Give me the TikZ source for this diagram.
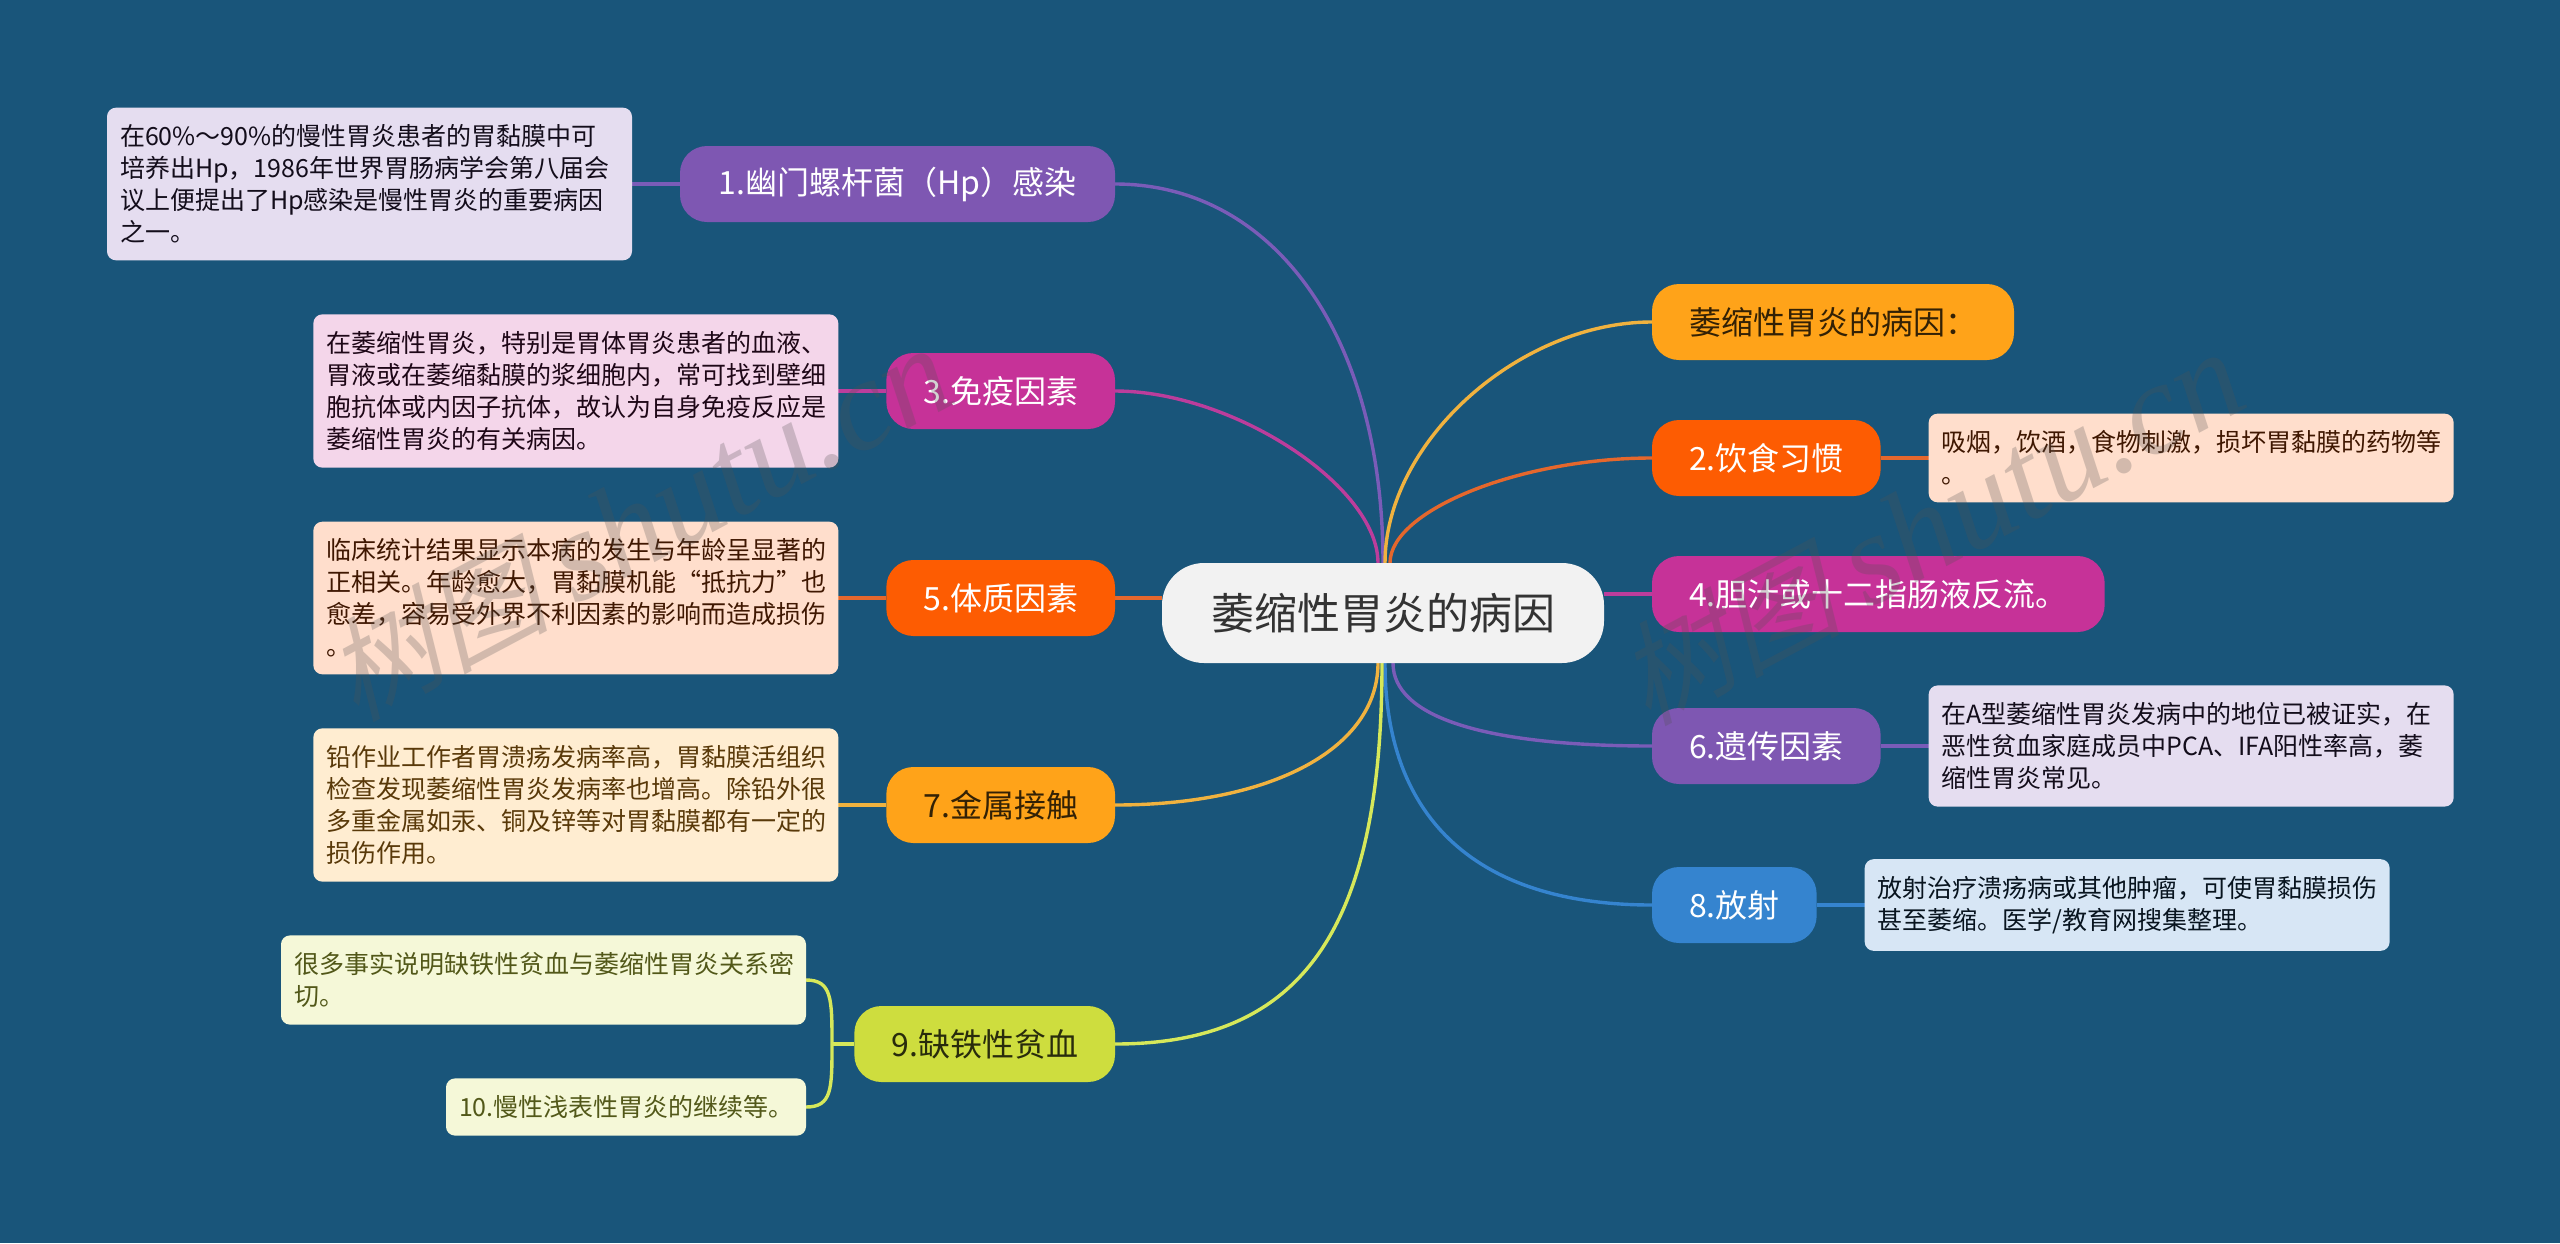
\documentclass[tikz,border=0pt]{standalone}
\usepackage{fontspec}
\setmainfont{Noto Sans CJK SC}
\newfontfamily\wmcjk[FakeSlant=0.25]{Noto Sans CJK SC}
\newfontfamily\wmlatin{Liberation Serif}
\usetikzlibrary{arrows.meta,positioning,backgrounds}
\definecolor{Paper}{HTML}{19557A}
\definecolor{Violet}{HTML}{7E57B2}
\definecolor{Magenta}{HTML}{C63298}
\definecolor{Flame}{HTML}{FD5C02}
\definecolor{Amber}{HTML}{FFA319}
\definecolor{Lime}{HTML}{CEDD3E}
\definecolor{Azure}{HTML}{3584CF}
\definecolor{LineViolet}{HTML}{7A5CB8}
\definecolor{LineMagenta}{HTML}{BC3D9C}
\definecolor{LineFlame}{HTML}{E5672C}
\definecolor{LineAmber}{HTML}{F0B23F}
\definecolor{LineLime}{HTML}{D6E85A}

\begin{document}
\begin{tikzpicture}[
  x=1pt,y=1pt,
  node distance=48pt,
  every node/.style={outer sep=0pt},
  rootbox/.style={
    rounded corners=42pt,
    fill=black!5,
    text=black!80,
    minimum width=442pt,
    minimum height=100pt,
    font=\fontsize{43}{50}\selectfont
  },
  branchbox/.style={
    rounded corners=27pt,
    text=white,
    minimum height=76pt,
    inner xsep=37pt,
    font=\fontsize{32}{38}\selectfont
  },
  notebox/.style={
    rounded corners=9pt,
    align=left,
    inner xsep=13pt,
    inner ysep=17pt,
    text width=499pt,
    font=\fontsize{25}{32}\selectfont
  },
  link/.style={line width=3.4pt},
  watermark/.style={
    rotate=28,
    text=black!68,
    opacity=0.26
  }
]

% Centre
\node[rootbox] (root) at (1383,-613) {萎缩性胃炎的病因};

% Branches on the left
\node[branchbox, fill=Violet, minimum width=435pt, anchor=east] (n1) at (1115,-184) {1.幽门螺杆菌（Hp）感染};
\node[branchbox, fill=Magenta, anchor=east] (n3) at (1115,-391) {3.免疫因素};
\node[branchbox, fill=Flame, anchor=east] (n5) at (1115,-598) {5.体质因素};
\node[branchbox, fill=Amber, text=black!80!Amber, anchor=east] (n7) at (1115,-805) {7.金属接触};
\node[branchbox, fill=Lime, text=black!80!Lime, anchor=east] (n9) at (1115,-1044) {9.缺铁性贫血};

% Branches on the right
\node[branchbox, fill=Amber, text=black!80!Amber, anchor=west] (n0) at (1652,-322) {萎缩性胃炎的病因：};
\node[branchbox, fill=Flame, anchor=west] (n2) at (1652,-458) {2.饮食习惯};
\node[branchbox, fill=Magenta, anchor=west] (n4) at (1652,-594) {4.胆汁或十二指肠液反流。};
\node[branchbox, fill=Violet, anchor=west] (n6) at (1652,-746) {6.遗传因素};
\node[branchbox, fill=Azure, anchor=west] (n8) at (1652,-905) {8.放射};

% Notes
\node[notebox, fill=Violet!20, text=Violet!15!black, left=of n1] (d1) {
  在60\%～90\%的慢性胃炎患者的胃黏膜中可\\
  培养出Hp，1986年世界胃肠病学会第八届会\\
  议上便提出了Hp感染是慢性胃炎的重要病因\\
  之一。
};
\node[notebox, fill=Magenta!20, text=Magenta!15!black, left=of n3] (d3) {
  在萎缩性胃炎，特别是胃体胃炎患者的血液、\\
  胃液或在萎缩黏膜的浆细胞内，常可找到壁细\\
  胞抗体或内因子抗体，故认为自身免疫反应是\\
  萎缩性胃炎的有关病因。
};
\node[notebox, fill=Flame!20, text=Flame!25!black, left=of n5] (d5) {
  临床统计结果显示本病的发生与年龄呈显著的\\
  正相关。年龄愈大，胃黏膜机能“抵抗力”也\\
  愈差，容易受外界不利因素的影响而造成损伤\\
  。
};
\node[notebox, fill=Amber!20, text=Amber!35!black, left=of n7] (d7) {
  铅作业工作者胃溃疡发病率高，胃黏膜活组织\\
  检查发现萎缩性胃炎发病率也增高。除铅外很\\
  多重金属如汞、铜及锌等对胃黏膜都有一定的\\
  损伤作用。
};
\node[notebox, fill=Lime!20, text=Lime!40!black, anchor=east] (d9) at (806,-980) {
  很多事实说明缺铁性贫血与萎缩性胃炎关系密\\
  切。
};
\node[notebox, fill=Lime!20, text=Lime!40!black, text width=334pt, anchor=east] (d10) at (806,-1107) {
  10.慢性浅表性胃炎的继续等。
};
\node[notebox, fill=Flame!20, text=Flame!25!black, right=of n2] (d2) {
  吸烟，饮酒，食物刺激，损坏胃黏膜的药物等\\
  。
};
\node[notebox, fill=Violet!20, text=Violet!15!black, right=of n6] (d6) {
  在A型萎缩性胃炎发病中的地位已被证实，在\\
  恶性贫血家庭成员中PCA、IFA阳性率高，萎\\
  缩性胃炎常见。
};
\node[notebox, fill=Azure!20, text=Azure!15!black, right=of n8] (d8) {
  放射治疗溃疡病或其他肿瘤，可使胃黏膜损伤\\
  甚至萎缩。医学/教育网搜集整理。
};

\coordinate (fork) at (832,-1044);

% Connectors
\begin{scope}[on background layer]
  \fill[Paper] (0,0) rectangle (2560,-1243);
  \draw[link, LineViolet] ([xshift=0pt]root.north) .. controls +(0,227) and +(159,0) .. (n1.east);
  \draw[link, LineMagenta] ([xshift=-5pt]root.north) .. controls +(0,77) and +(118,0) .. (n3.east);
  \draw[link, LineFlame] (n5.east) -- (n5.east -| root.west);
  \draw[link, LineAmber] ([xshift=-5pt]root.south) .. controls +(0,-85) and +(158,0) .. (n7.east);
  \draw[link, LineAmber] ([xshift=2pt]root.north) .. controls +(0,121) and +(-133,0) .. (n0.west);
  \draw[link, LineFlame] ([xshift=7pt]root.north) .. controls +(0,53) and +(-131,0) .. (n2.west);
  \draw[link, LineMagenta] (n4.west) -- (n4.west -| root.east);
  \draw[link, LineViolet] ([xshift=10pt]root.south) .. controls +(0,-54) and +(-168,0) .. (n6.west);
  \draw[link, Azure] ([xshift=2pt]root.south) .. controls +(0,-157) and +(-174,0) .. (n8.west);
  \draw[link, LineLime] ([xshift=-1pt]root.south) .. controls +(0,-267) and +(187,0) .. (n9.east);
  \draw[link, LineViolet] (n1) -- (d1);
  \draw[link, LineMagenta] (n3) -- (d3);
  \draw[link, LineFlame] (n5) -- (d5);
  \draw[link, LineAmber] (n7) -- (d7);
  \draw[link, LineFlame] (n2) -- (d2);
  \draw[link, LineViolet] (n6) -- (d6);
  \draw[link, Azure] (n8) -- (d8);
  \draw[link, LineLime] (n9.west) -- (fork);
  \draw[link, LineLime] (fork) .. controls +(0,45) and +(26,0) .. (d9.east);
  \draw[link, LineLime] (fork) .. controls +(0,-45) and +(26,0) .. (d10.east);
\end{scope}

% Watermarks
\node[watermark] (wm1) at (638,-524) {\fontsize{112}{120}\selectfont\wmcjk 树图 \fontsize{130}{130}\selectfont\wmlatin\itshape shutu.cn};
\node[watermark] (wm2) at (1930,-528) {\fontsize{112}{120}\selectfont\wmcjk 树图 \fontsize{130}{130}\selectfont\wmlatin\itshape shutu.cn};

\useasboundingbox (0,0) rectangle (2560,-1243);
\end{tikzpicture}
\end{document}
